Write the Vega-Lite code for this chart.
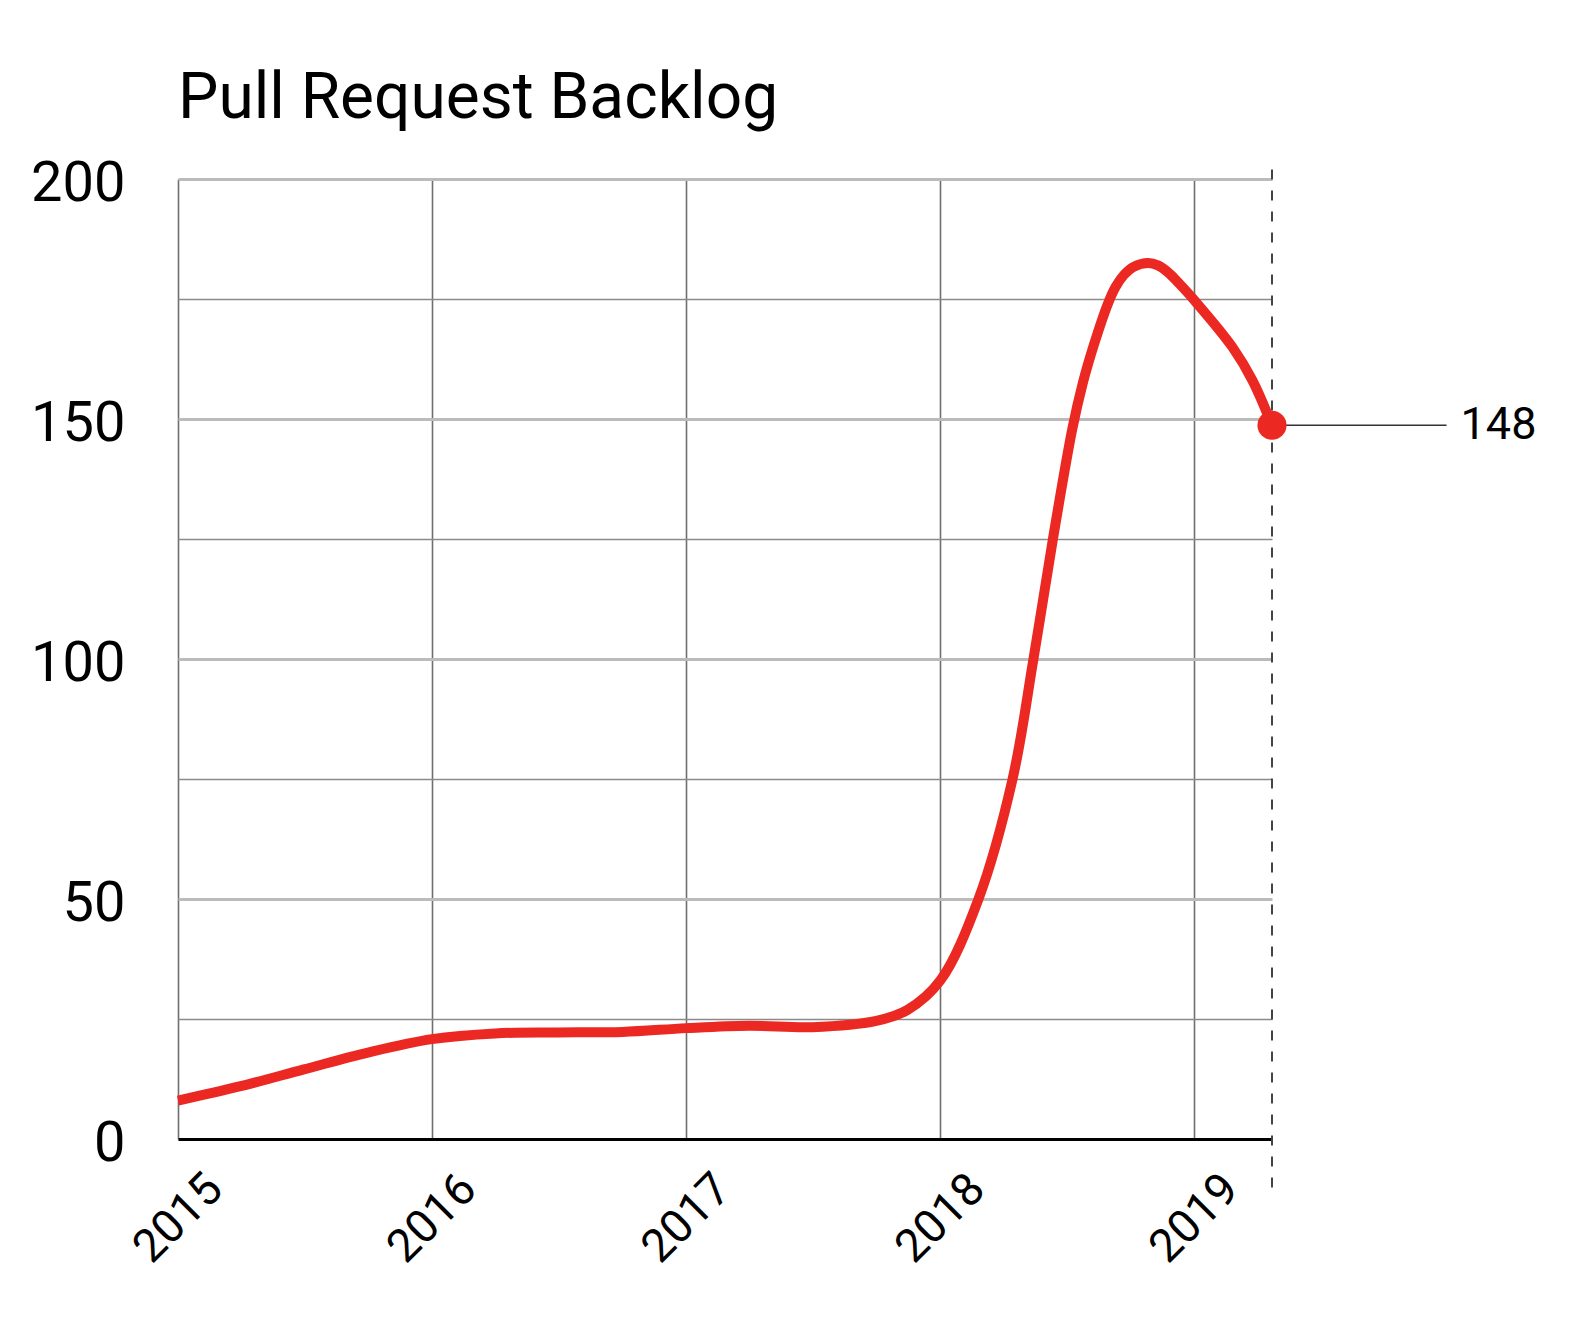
{
  "$schema": "https://vega.github.io/schema/vega-lite/v6.json",
  "width": 1094,
  "height": 960,
  "autosize": {"type": "none"},
  "padding": {"left": 178, "top": 179, "right": 312, "bottom": 179},
  "background": "white",
  "config": {"font": "Roboto", "view": {"stroke": null}},
  "title": {
    "text": "Pull Request Backlog",
    "anchor": "start",
    "frame": "group",
    "fontSize": 64,
    "fontWeight": "normal",
    "font": "Roboto",
    "color": "#000",
    "baseline": "alphabetic",
    "offset": -27
  },
  "datasets": {
    "backlog": [
      {"date": "2015-01-01T00:00", "value": 8},
      {"date": "2015-04-01T00:00", "value": 11},
      {"date": "2015-07-01T00:00", "value": 14.5},
      {"date": "2015-10-01T00:00", "value": 18},
      {"date": "2016-01-01T00:00", "value": 20.8},
      {"date": "2016-04-01T00:00", "value": 22},
      {"date": "2016-07-01T00:00", "value": 22.2},
      {"date": "2016-10-01T00:00", "value": 22.3},
      {"date": "2017-01-01T00:00", "value": 23.1},
      {"date": "2017-04-01T00:00", "value": 23.6},
      {"date": "2017-07-01T00:00", "value": 23.3},
      {"date": "2017-10-01T00:00", "value": 24.6},
      {"date": "2017-11-15T00:00", "value": 26.9},
      {"date": "2018-01-01T00:00", "value": 33},
      {"date": "2018-02-25T00:00", "value": 50},
      {"date": "2018-04-15T00:00", "value": 75},
      {"date": "2018-05-15T00:00", "value": 100},
      {"date": "2018-06-12T00:00", "value": 125},
      {"date": "2018-07-10T00:00", "value": 148},
      {"date": "2018-07-25T00:00", "value": 157.5},
      {"date": "2018-08-10T00:00", "value": 165.5},
      {"date": "2018-08-30T00:00", "value": 174},
      {"date": "2018-09-10T00:00", "value": 177.5},
      {"date": "2018-09-22T00:00", "value": 180},
      {"date": "2018-10-06T00:00", "value": 181.7},
      {"date": "2018-10-27T00:00", "value": 182.5},
      {"date": "2018-11-10T00:00", "value": 182},
      {"date": "2018-11-25T00:00", "value": 180.5},
      {"date": "2018-12-10T00:00", "value": 178.3},
      {"date": "2019-01-01T00:00", "value": 174.8},
      {"date": "2019-02-25T00:00", "value": 165},
      {"date": "2019-03-26T00:00", "value": 158},
      {"date": "2019-04-23T00:00", "value": 148.7}
    ],
    "latest": [
      {"date": "2019-04-23T00:00", "value": 148.7, "label": "148", "labelEnd": "2019-12-30T00:00", "ruleTop": 202, "ruleBottom": -11.7}
    ]
  },
  "layer": [
    {
      "data": {"name": "backlog"},
      "mark": {"type": "line", "interpolate": "catmull-rom", "color": "#EC2823", "strokeWidth": 10},
      "encoding": {
        "x": {
          "field": "date",
          "type": "temporal",
          "scale": {"domain": [{"year": 2015, "month": 1, "date": 1}, {"year": 2019, "month": 4, "date": 23}], "nice": false},
          "axis": {
            "title": null,
            "format": "%Y",
            "tickCount": {"interval": "year", "step": 1},
            "labelAngle": -45,
            "labelAlign": "center",
            "labelBaseline": "middle",
            "labelPadding": 79,
            "labelFontSize": 46,
            "labelFont": "Roboto",
            "labelColor": "#000",
            "labelFlush": false,
            "labelOverlap": false,
            "labelBound": false,
            "ticks": false,
            "tickSize": 0,
            "domain": true,
            "domainColor": "#000",
            "domainWidth": 3,
            "grid": true,
            "gridColor": "#6e6e6e",
            "gridWidth": 1.6
          }
        },
        "y": {
          "field": "value",
          "type": "quantitative",
          "scale": {"domain": [0, 200], "nice": false},
          "axis": {
            "title": null,
            "values": [0, 25, 50, 75, 100, 125, 150, 175, 200],
            "labelExpr": "datum.value % 50 === 0 ? datum.label : ''",
            "labelFontSize": 56,
            "labelFont": "Roboto",
            "labelColor": "#000",
            "labelPadding": 53,
            "labelOffset": 4,
            "labelFlush": false,
            "labelOverlap": false,
            "labelBound": false,
            "ticks": false,
            "tickSize": 0,
            "domain": false,
            "grid": true,
            "gridColor": {"condition": {"test": "datum.value % 50 === 0", "value": "#bbbbbb"}, "value": "#8a8a8a"},
            "gridWidth": {"condition": {"test": "datum.value % 50 === 0", "value": 3}, "value": 1.5}
          }
        }
      }
    },
    {
      "data": {"name": "latest"},
      "mark": {"type": "rule", "strokeDash": [10, 11], "color": "#444", "strokeWidth": 2},
      "encoding": {
        "x": {"field": "date", "type": "temporal"},
        "y": {"field": "ruleTop", "type": "quantitative"},
        "y2": {"field": "ruleBottom"}
      }
    },
    {
      "data": {"name": "latest"},
      "mark": {"type": "rule", "color": "#333", "strokeWidth": 1.5},
      "encoding": {
        "x": {"field": "date", "type": "temporal"},
        "x2": {"field": "labelEnd"},
        "y": {"field": "value", "type": "quantitative"}
      }
    },
    {
      "data": {"name": "latest"},
      "mark": {"type": "point", "filled": true, "size": 850, "color": "#EC2823", "opacity": 1},
      "encoding": {
        "x": {"field": "date", "type": "temporal"},
        "y": {"field": "value", "type": "quantitative"}
      }
    },
    {
      "data": {"name": "latest"},
      "mark": {"type": "text", "align": "left", "baseline": "middle", "dx": 14, "fontSize": 45, "font": "Roboto", "color": "#000"},
      "encoding": {
        "x": {"field": "labelEnd", "type": "temporal"},
        "y": {"field": "value", "type": "quantitative"},
        "text": {"field": "label"}
      }
    }
  ]
}
